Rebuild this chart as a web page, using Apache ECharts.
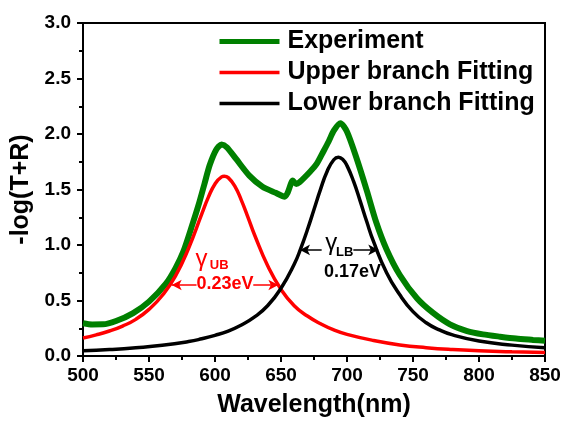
<!DOCTYPE html>
<html><head><meta charset="utf-8">
<script src="https://cdn.jsdelivr.net/npm/echarts@6/dist/echarts.min.js"></script>
<style>html,body{margin:0;padding:0;background:#fff}#c{width:566px;height:423px}</style>
</head><body><div id="c"></div>
<script>
// ---- data ----
const expX = [500,507,515,525,538,550,563,570,576,583,588,592,596,601,605,609,616,626,636,646,652.8,655,659,661.5,664,672,677,682,686,690,695,700,707,715,722,730,740,753,765,778,791,803,816,828,841,850];
const expY = [0.295,0.284,0.285,0.315,0.387,0.49,0.655,0.79,0.94,1.19,1.38,1.55,1.72,1.86,1.905,1.88,1.775,1.625,1.525,1.47,1.435,1.47,1.58,1.55,1.565,1.66,1.73,1.84,1.93,2.03,2.097,2.02,1.79,1.49,1.21,0.96,0.73,0.52,0.39,0.285,0.225,0.195,0.174,0.157,0.145,0.137];
const upperX = [500,510,520,530,540,550,560,570,580,590,595,600,605,607,610,615,620,625,630,640,650,660,670,680,690,700,720,740,760,780,800,825,850];
const upperY = [0.162,0.19,0.225,0.27,0.33,0.42,0.545,0.72,0.971,1.28,1.431,1.55,1.614,1.62,1.607,1.53,1.402,1.249,1.09,0.81,0.60,0.453,0.36,0.29,0.235,0.195,0.14,0.10,0.075,0.058,0.047,0.038,0.032];
const lowerX = [500,520,540,560,580,590,600,610,620,630,640,650,660,665,670,675,680,685,690,693.5,697,700,705,710,715,720,730,740,750,760,770,780,800,825,850];
const lowerY = [0.047,0.058,0.074,0.096,0.13,0.155,0.186,0.225,0.28,0.352,0.455,0.61,0.826,0.97,1.137,1.32,1.504,1.665,1.768,1.79,1.768,1.715,1.573,1.395,1.209,1.034,0.75,0.551,0.40,0.30,0.235,0.19,0.135,0.098,0.074];
const seriesNames = ['Experiment','Upper branch Fitting','Lower branch Fitting'];
const xTicks = {min:500, max:850, step:50};
const yTicks = {min:0, max:3, step:0.5};
// annotation anchors (data units)
const ubArrows = [[[586,0.64],[567.2,0.64]],[[629,0.64],[648,0.64]]];
const lbArrows = [[[680.8,0.956],[664.4,0.956]],[[704.8,0.956],[723.7,0.956]]];
const ubTexts = [{t:'γ',at:[589.8,0.87],big:true},{t:'UB',at:[603.2,0.813],sub:true},{t:'0.23eV',at:[607.6,0.644]}];
const lbTexts = [{t:'γ',at:[688.0,1.014],big:true},{t:'LB',at:[698.2,0.935],sub:true},{t:'0.17eV',at:[704.2,0.755]}];

const FONT = 'Arial, "Liberation Sans", Helvetica, sans-serif';
const pairs = (xs, ys) => xs.map((x, i) => [x, ys[i]]);
function textPoints(list, color){
  return list.map(o => ({
    coord: o.at,
    label: {show:true, position:'inside', formatter:o.t, color:color, fontFamily:FONT,
      fontSize: o.big ? 24 : (o.sub ? 13 : 18), fontWeight: o.big ? 'normal' : 'bold'}
  }));
}
function arrowLines(list){ return list.map(a => [{coord:a[0]},{coord:a[1]}]); }
function annot(color, arrows, texts){
  return {
    markLine:{silent:true, animation:false, symbol:['none','arrow'], symbolSize:[8,10],
      label:{show:false}, emphasis:{disabled:true},
      lineStyle:{color:color, width:1.5, type:'solid'}, data:arrowLines(arrows)},
    markPoint:{silent:true, animation:false, symbol:'circle', symbolSize:1,
      itemStyle:{color:'rgba(0,0,0,0)'}, data:textPoints(texts, color)}
  };
}

const chart = echarts.init(document.getElementById('c'), null, {renderer:'canvas'});
const axisCommon = {
  axisLine:{show:true, onZero:false, lineStyle:{color:'#000', width:2}},
  axisTick:{show:true, inside:false, length:6, lineStyle:{color:'#000', width:2}},
  minorTick:{show:true, splitNumber:2, length:4, lineStyle:{color:'#000', width:2}},
  splitLine:{show:false},
  nameLocation:'middle',
  nameTextStyle:{fontSize:25, fontWeight:'bold', color:'#000', fontFamily:FONT}
};
const legendWidths = [5, 3.5, 3.5];
chart.setOption({
  animation:false,
  grid:{left:83, right:21, top:23, bottom:61, show:true, borderColor:'#000', borderWidth:2},
  legend:{orient:'vertical', left:217, top:29, padding:0, itemWidth:60, itemHeight:14, itemGap:6,
    data:seriesNames.map((n, i) => ({name:n, lineStyle:{width:legendWidths[i]}})),
    selectedMode:false, itemStyle:{opacity:0},
    textStyle:{fontSize:25, fontWeight:'bold', color:'#000', fontFamily:FONT, lineHeight:25, padding:[0,0,0,3]}},
  xAxis:Object.assign({}, axisCommon, {type:'value', min:xTicks.min, max:xTicks.max, interval:xTicks.step,
    name:'Wavelength(nm)', nameGap:37,
    axisLabel:{fontSize:19, fontWeight:'bold', color:'#000', margin:10, fontFamily:FONT}}),
  yAxis:Object.assign({}, axisCommon, {type:'value', min:yTicks.min, max:yTicks.max, interval:yTicks.step,
    name:'-log(T+R)', nameGap:47,
    axisLabel:{fontSize:19, fontWeight:'bold', color:'#000', margin:12, fontFamily:FONT,
      formatter:v => v.toFixed(1)}}),
  series:[
    {name:seriesNames[0], type:'line', data:pairs(expX, expY), smooth:0.25, symbol:'none', showSymbol:false,
      lineStyle:{color:'#008000', width:6}, itemStyle:{color:'#008000'}, z:2},
    Object.assign({name:seriesNames[1], type:'line', data:pairs(upperX, upperY), smooth:true, symbol:'none', showSymbol:false,
      lineStyle:{color:'#ff0000', width:3.5}, itemStyle:{color:'#ff0000'}, z:3}, annot('#ff0000', ubArrows, ubTexts)),
    Object.assign({name:seriesNames[2], type:'line', data:pairs(lowerX, lowerY), smooth:true, symbol:'none', showSymbol:false,
      lineStyle:{color:'#000000', width:3.5}, itemStyle:{color:'#000000'}, z:4}, annot('#000000', lbArrows, lbTexts))
  ]
});
</script>
</body></html>
